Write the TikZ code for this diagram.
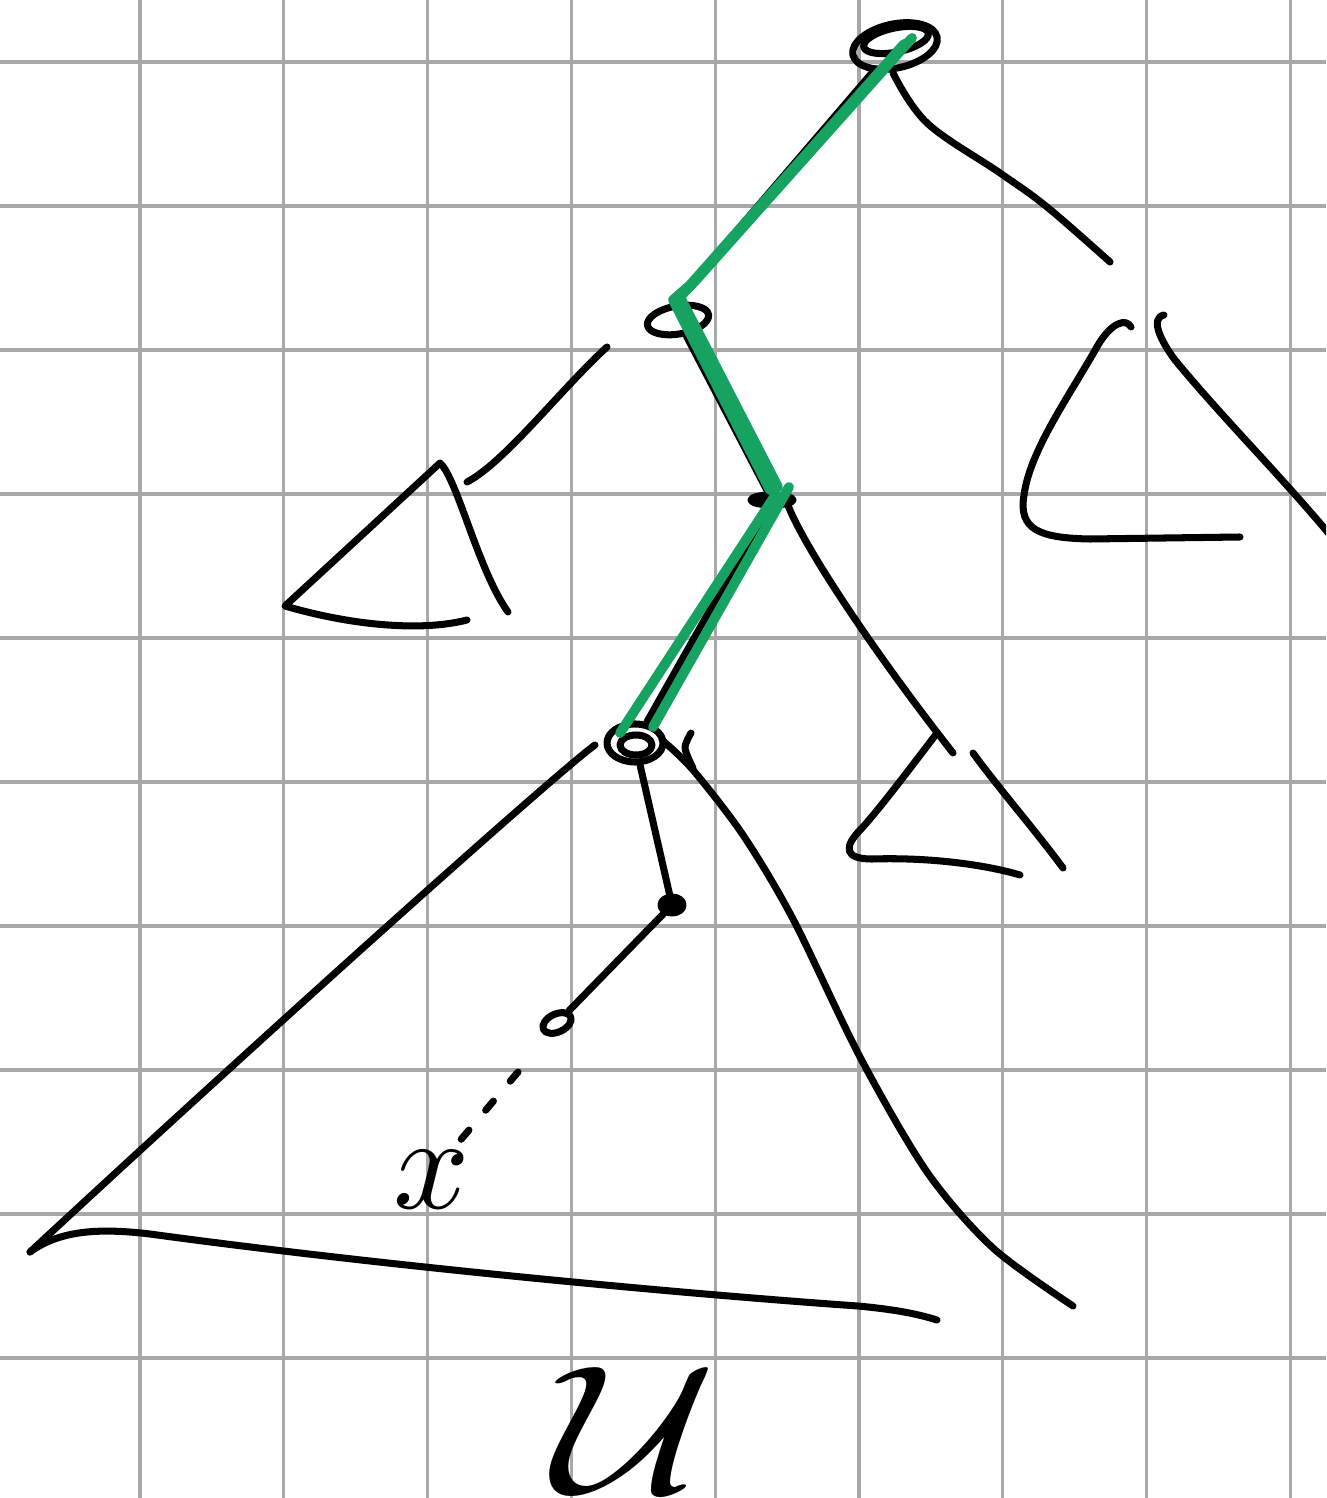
\documentclass[tikz,border=0pt]{standalone}
\usepackage{graphicx}
\usetikzlibrary{shapes.geometric}
\definecolor{gridgray}{RGB}{168,168,168}
\definecolor{pengreen}{RGB}{22,163,98}
\begin{document}
\begin{tikzpicture}[x=0.01cm, y=-0.01cm,
  pen/.style={line width=2pt, line cap=round, line join=round, draw=black},
  grn/.style={draw=pengreen, line width=2.8pt, line cap=round, line join=round},
  gridline/.style={draw=gridgray, line width=0.9pt},
  knot/.style={pen, ellipse, inner sep=0pt},
]
\useasboundingbox (0,0) rectangle (1326,1498);
\clip (0,0) rectangle (1326,1498);
\fill[white] (0,0) rectangle (1326,1498);
\foreach \k in {0,...,8} \draw[gridline] ({140+143.8*\k},0) -- ({140+143.8*\k},1498);
\foreach \k in {0,...,9} \draw[gridline] (0,{62+144*\k}) -- (1326,{62+144*\k});

% tree nodes
\node[knot, minimum width=0.86cm, minimum height=0.44cm, rotate=12] (root) at (895,46) {};
\draw[pen, rotate around={12:(896,40)}] (896,40) ellipse (0.33cm and 0.12cm);
\node[knot, minimum width=0.62cm, minimum height=0.28cm, rotate=10] (n2) at (678,320) {};
\node[pen, fill=black, ellipse, minimum width=0.42cm, minimum height=0.1cm, inner sep=0pt] (n3) at (772,500) {};
\node[knot, minimum width=0.56cm, minimum height=0.38cm] (n4) at (635,743) {};
\draw[pen] (636,745) ellipse (0.16cm and 0.1cm);
\node[knot, fill=black, minimum width=0.22cm, minimum height=0.16cm] (n5) at (672,905) {};
\node[knot, minimum width=0.3cm, minimum height=0.18cm, rotate=25] (n6) at (557,1023) {};

% tree edges
\draw[pen] (root) -- (n2.north);
\draw[pen] (n2) -- (n3);
\draw[pen] (n3) -- (n4);
\draw[pen] (n4) -- (n5);
\draw[pen] (n5) -- (n6);

% subtrees
\draw[pen] plot[smooth, tension=0.6] coordinates {(893,73) (927,123) (1000,173) (1047,207) (1110,262)};
\draw[pen] (1131,327) .. controls (1126,318) and (1112,322) .. (1098,345) .. controls (1070,395) and (1030,450) .. (1024,495) .. controls (1018,530) and (1040,538) .. (1090,539) -- (1240,537);
\draw[pen] (1164,315) .. controls (1150,318) and (1160,340) .. (1175,360) .. controls (1220,415) and (1280,475) .. (1330,535);
\draw[pen] (607,347) .. controls (560,390) and (505,462) .. (467,482);
\draw[pen] (467,620) .. controls (420,632) and (350,625) .. (285,606) -- (440,463) .. controls (457,478) and (478,570) .. (508,612);
\draw[pen] (787,503) .. controls (805,550) and (880,660) .. (953,753);
\draw[pen] (937,733) .. controls (905,775) and (880,808) .. (862,828) .. controls (842,848) and (845,859) .. (872,859) .. controls (935,857) and (990,866) .. (1020,875);
\draw[pen] (973,753) .. controls (1000,790) and (1035,830) .. (1063,868);
\draw[pen] (595,745) .. controls (560,770) and (280,1020) .. (30,1252);
\draw[pen] (30,1252) .. controls (60,1230) and (100,1228) .. (150,1234) .. controls (400,1268) and (700,1295) .. (858,1306) .. controls (890,1309) and (915,1313) .. (937,1320);
\draw[pen] plot[smooth] coordinates {(662,740) (693,770) (743,835) (793,919) (860,1057) (927,1172) (993,1248) (1073,1306)};
\draw[pen] plot[smooth] coordinates {(691,733) (685,748) (693,768)};

% green path
\draw[grn] (912,38) -- (697,279) -- (680,297) -- (778,487);
\draw[grn] (904,44) -- (690,285) -- (673,300) -- (770,490);
\draw[grn] (789,487) -- (653,727);
\draw[grn] (776,494) -- (620,733);

% dotted continuation and labels
\coordinate (dA) at (518,1072);
\coordinate (dB) at (458,1143);
\draw[pen, dash pattern=on 0.12cm off 0.26cm] (dA) -- (dB);
\node (xlab) at (432,1180) {\scalebox{3.8}{$x$}};
\node (ulab) at (635,1430) {\scalebox{6.4}[5.2]{$\mathcal{U}$}};
\end{tikzpicture}
\end{document}
